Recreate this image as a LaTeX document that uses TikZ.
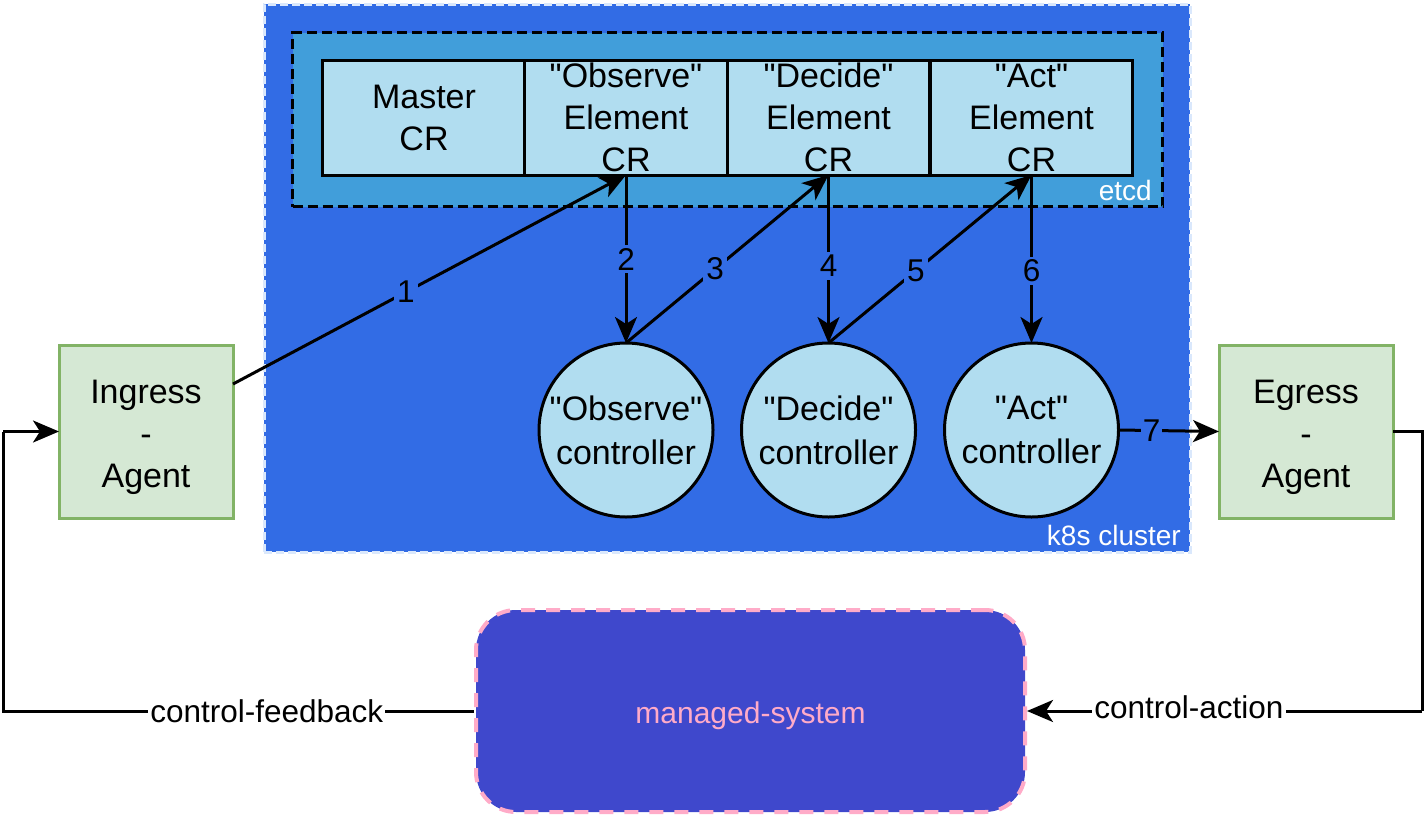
\documentclass[tikz,border=0pt]{standalone}
\usepackage{fontspec}
\setmainfont{Liberation Sans}[Ligatures=TeXReset]
\usetikzlibrary{arrows.meta}
\definecolor{k8sblue}{HTML}{326CE5}
\definecolor{etcdblue}{HTML}{419EDA}
\definecolor{crblue}{HTML}{B1DDF0}
\definecolor{agentfill}{HTML}{D5E8D4}
\definecolor{agentdraw}{HTML}{82B366}
\definecolor{msfill}{HTML}{3F48CC}
\definecolor{mspink}{HTML}{FFABC8}
\definecolor{clusterdash}{HTML}{DAE8FC}
\newcommand{\agentstrut}{\rule{0pt}{34.5pt}}
\tikzset{
  maintext/.style={font=\fontsize{34}{42}\selectfont, align=center},
  crcell/.style={maintext, draw=black, line width=3pt, fill=crblue, minimum width=202.5pt, minimum height=115pt, inner sep=0pt, outer sep=0pt},
  ctrl/.style={maintext, font=\fontsize{34}{44}\selectfont, circle, draw=black, line width=3pt, fill=crblue, minimum size=174pt, inner sep=0pt, outer sep=0pt},
  agent/.style={maintext, draw=agentdraw, line width=3pt, fill=agentfill, minimum width=174pt, minimum height=173pt, inner sep=0pt, outer sep=0pt},
  conn/.style={draw=black, line width=3pt, -{Stealth[length=26pt,width=22pt,inset=7pt]}},
  plainconn/.style={draw=black, line width=3pt},
  numlbl/.style={font=\fontsize{31.5}{36}\selectfont, fill=k8sblue, inner sep=3pt},
  ctllbl/.style={font=\fontsize{31.5}{36}\selectfont, fill=white, inner sep=2pt},
  arealbl/.style={font=\fontsize{28}{32}\selectfont, text=white, inner sep=0pt}
}
\begin{document}
\begin{tikzpicture}[x=1pt,y=-1pt]
\useasboundingbox (0,0) rectangle (1426,819);
% k8s cluster
\node (k8s) [draw=clusterdash, line width=2.5pt, dash pattern=on 8pt off 4pt, fill=k8sblue, minimum width=926pt, minimum height=548pt, inner sep=0pt, anchor=north west] at (263,3) {};
\node (k8slbl) [arealbl, anchor=south east] at (1181,546) {k8s cluster};
% etcd
\node (etcd) [draw=black, line width=3pt, dash pattern=on 10pt off 5pt, fill=etcdblue, minimum width=870pt, minimum height=174pt, inner sep=0pt, anchor=north west] at (291,31) {};
\node (etcdlbl) [arealbl, anchor=south east] at (1152,201) {etcd};
% CR cells
\node (master) [crcell] at (424,117.5) {Master\\CR};
\node (obs) [crcell] at (626,117.5) {"Observe"\\Element\\CR};
\node (dec) [crcell] at (828.5,117.5) {"Decide"\\Element\\CR};
\node (act) [crcell] at (1031.5,117.5) {"Act"\\Element\\CR};
% controllers
\node (cobs) [ctrl] at (626,430) {"Observe"\\controller};
\node (cdec) [ctrl] at (828.5,430) {"Decide"\\controller};
\node (cact) [ctrl] at (1031.5,430) {"Act"\\controller};
% agents
\node (ing) [agent] at (146,431.5) {\agentstrut Ingress\\-\\Agent};
\node (egr) [agent] at (1306,431.5) {\agentstrut Egress\\-\\Agent};
% managed system
\node (ms) [draw=mspink, line width=4pt, dash pattern=on 14pt off 11pt, fill=msfill, rounded corners=40pt, minimum width=549pt, minimum height=202pt, text=mspink, font=\fontsize{30}{36}\selectfont, execute at begin node={\rule{0pt}{32pt}}] at (750.5,711) {managed-system};
% connectors
\coordinate (ingout) at ([yshift=-39pt]ing.north east);
\draw[conn] (ingout) -- node[numlbl, pos=0.44] {1} (obs.south);
\draw[conn] (obs.south) -- node[numlbl, pos=0.5] {2} (cobs.north);
\draw[conn] (cobs.north) -- node[numlbl, pos=0.44] {3} (dec.south);
\draw[conn] (dec.south) -- node[numlbl, pos=0.54] {4} (cdec.north);
\draw[conn] (cdec.north) -- node[numlbl, pos=0.43] {5} (act.south);
\draw[conn] (act.south) -- node[numlbl, pos=0.57] {6} (cact.north);
\draw[conn] (cact.east) -- node[numlbl, pos=0.33, inner sep=2pt] {7} (egr.west);
% control-action
\coordinate (ca1) at (1422,431.5);
\coordinate (ca2) at (1422,711);
\draw[plainconn] (egr.east) -- (ca1) -- (ca2);
\draw[conn] (ca2) -- node[ctllbl, pos=0.59, yshift=4pt] {control-action} (ms.east);
% control-feedback
\coordinate (cf1) at (3,711);
\coordinate (cf2) at (3,431.5);
\draw[plainconn] (ms.west) -- node[ctllbl, pos=0.44] {control-feedback} (cf1) -- (cf2);
\draw[conn] (cf2) -- (ing.west);
\end{tikzpicture}
\end{document}
